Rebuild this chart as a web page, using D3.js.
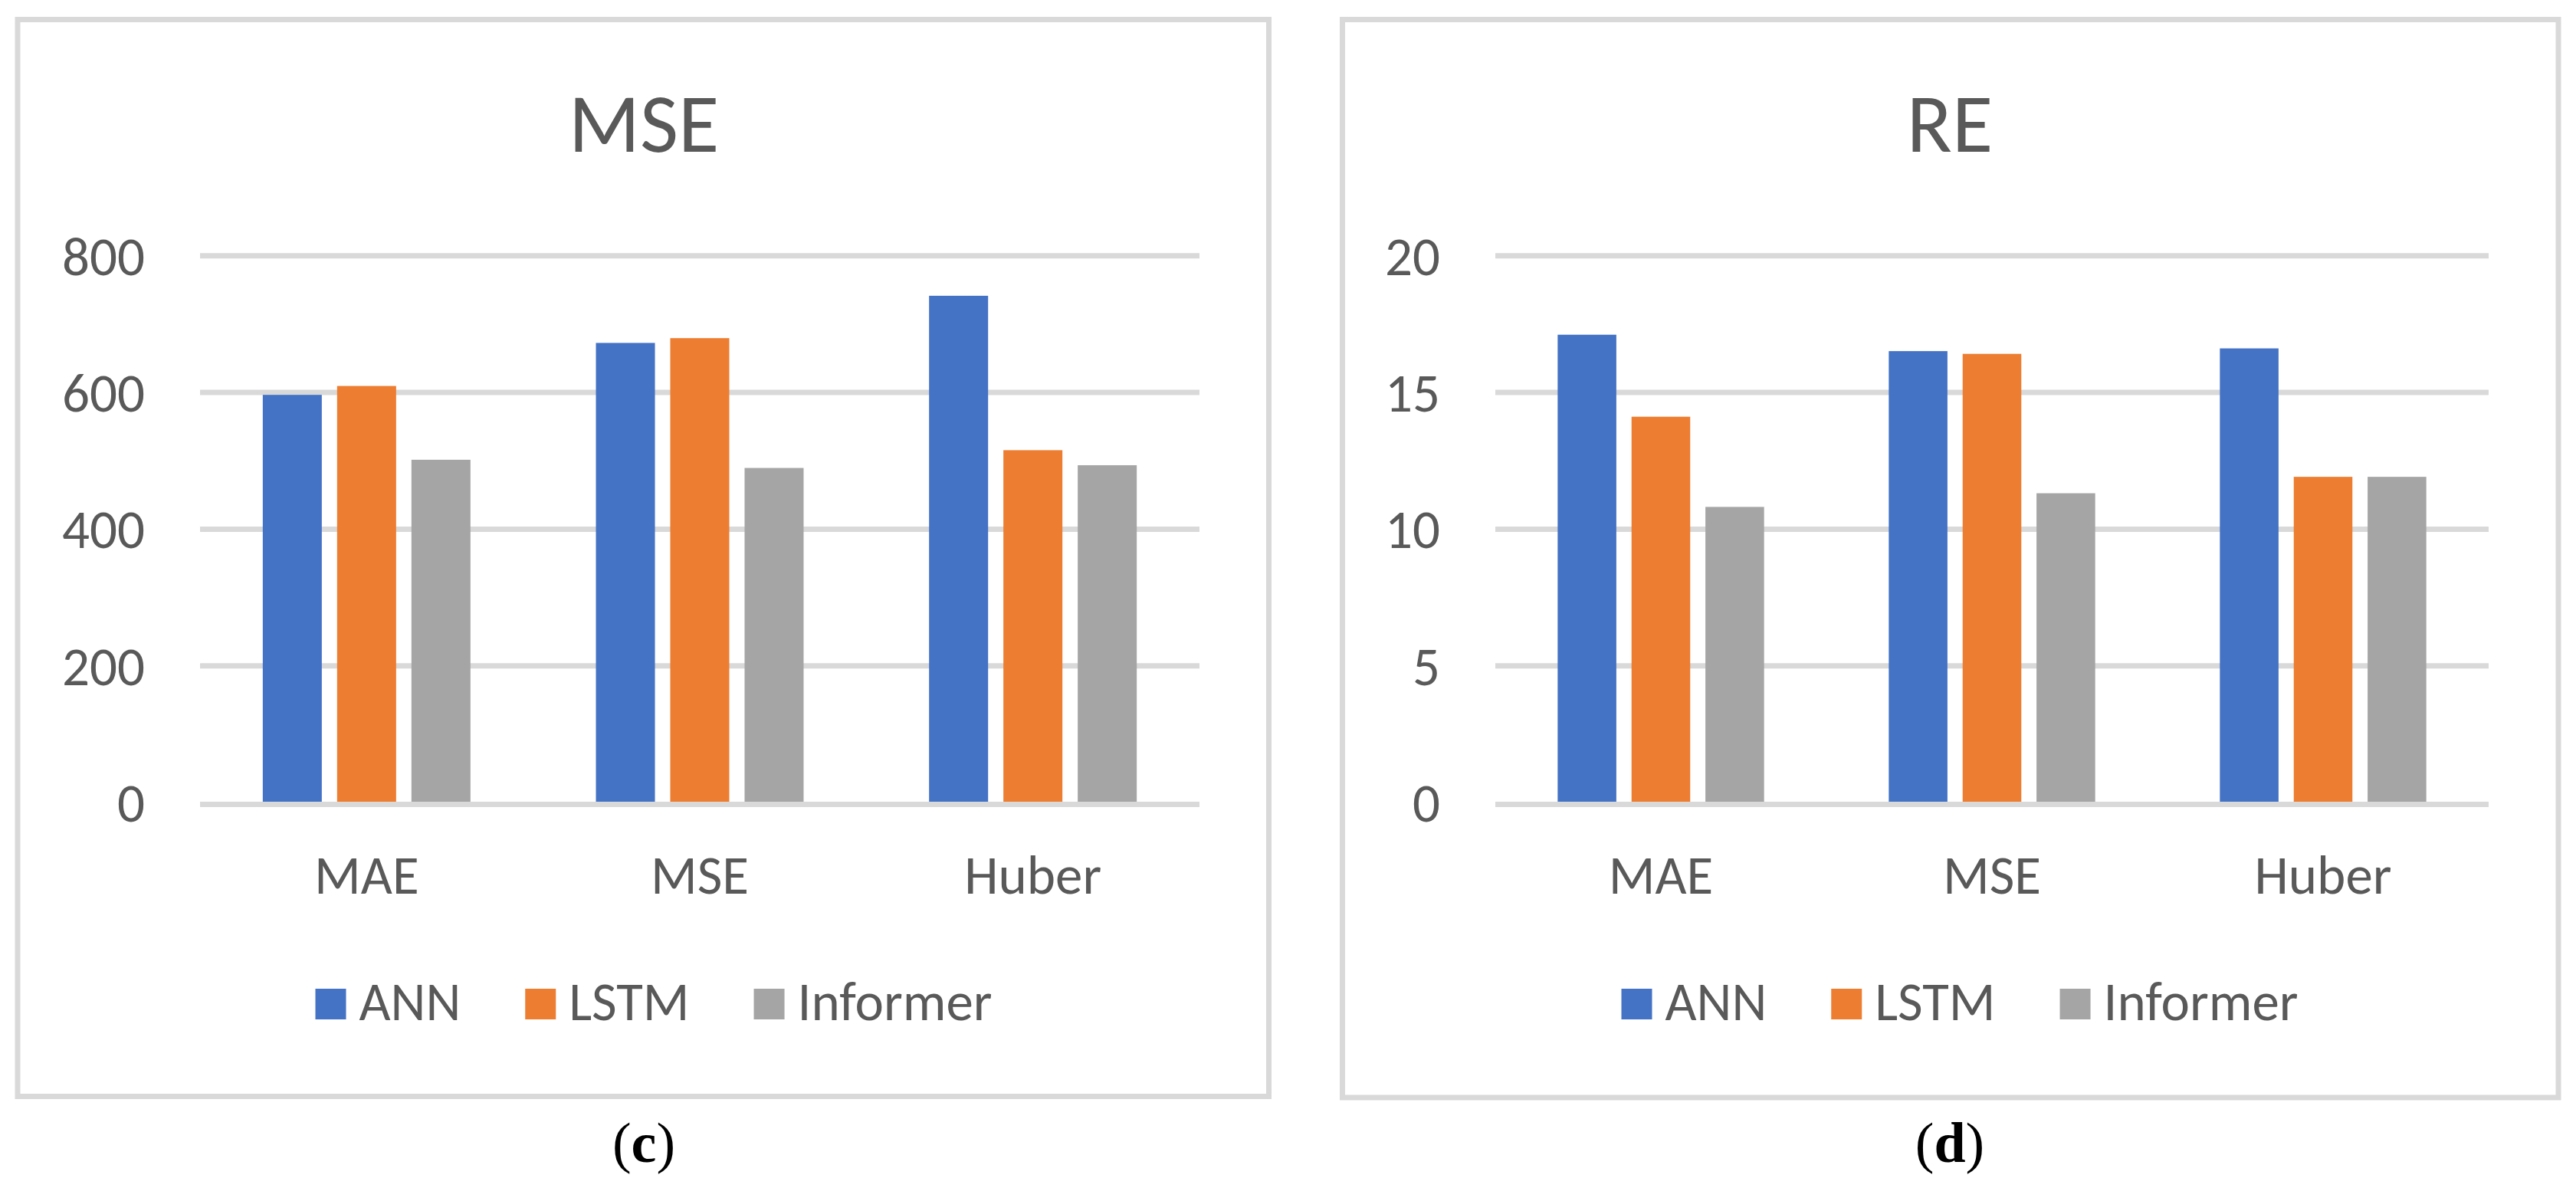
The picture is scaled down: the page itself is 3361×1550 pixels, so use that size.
<!DOCTYPE html>
<html>
<head>
<meta charset="utf-8">
<script src="https://cdn.jsdelivr.net/npm/d3@7/dist/d3.min.js"></script>
<style>
  html, body { margin: 0; padding: 0; background: #ffffff; }
  svg { display: block; }
</style>
</head>
<body>
<svg id="chart" width="3361" height="1550"></svg>
<script>
// ---------------- DATA ----------------
const categories = ["MAE", "MSE", "Huber"];
const seriesNames = ["ANN", "LSTM", "Informer"];
const seriesColors = ["#4472C4", "#ED7D31", "#A5A5A5"];

// Panel (c): MSE
const mseANN = [596, 672, 741];
const mseLSTM = [609, 679, 515];
const mseInformer = [501, 489, 493];
const mseTicks = [0, 200, 400, 600, 800];

// Panel (d): RE
const reANN = [17.1, 16.5, 16.6];
const reLSTM = [14.1, 16.4, 11.9];
const reInformer = [10.8, 11.3, 11.9];
const reTicks = [0, 5, 10, 15, 20];

const panelTitles = ["MSE", "RE"];
const panelCaptions = ["c", "d"];

// ---------------- LAYOUT ----------------
const FONT = "Carlito, Calibri, Lato, sans-serif";
const TEXT = "#595959";
const GRID = "#D9D9D9";
const LABEL_SIZE = 71;
const TITLE_SIZE = 109;
const LEG_GAP = 84;

const panels = [
  { title: panelTitles[0], caption: panelCaptions[0], values: [mseANN, mseLSTM, mseInformer], ticks: mseTicks,
    box: [23, 25.5, 1655.5, 1430.5], plot: [261, 1565], center: 840 },
  { title: panelTitles[1], caption: panelCaptions[1], values: [reANN, reLSTM, reInformer], ticks: reTicks,
    box: [1751.5, 25.5, 3338, 1432], plot: [1951, 3247], center: 2544 }
];

const svg = d3.select("#chart");
const yTop = 333.3, yBottom = 1046.5;

panels.forEach(p => {
  const g = svg.append("g");

  // frame
  g.append("rect")
    .attr("x", p.box[0]).attr("y", p.box[1])
    .attr("width", p.box[2] - p.box[0]).attr("height", p.box[3] - p.box[1])
    .attr("fill", "#fff").attr("stroke", GRID).attr("stroke-width", 7);

  const x = d3.scaleBand().domain(categories).range(p.plot)
    .paddingInner(0.3766).paddingOuter(0.1883);
  const xs = d3.scaleBand().domain(seriesNames).range([0, x.bandwidth()])
    .paddingInner(0.206).paddingOuter(0);
  const y = d3.scaleLinear().domain([0, d3.max(p.ticks)]).range([yBottom, yTop]);

  // gridlines (except baseline)
  g.append("g")
    .attr("transform", `translate(${p.plot[0]},0)`)
    .call(d3.axisLeft(y).tickValues(p.ticks.filter(t => t !== 0))
      .tickSize(-(p.plot[1] - p.plot[0])).tickFormat(""))
    .call(a => a.select(".domain").remove())
    .call(a => a.selectAll("line").attr("stroke", GRID).attr("stroke-width", 7));

  // bars
  const rows = categories.map((c, i) => ({ c, vals: seriesNames.map((s, j) => ({ s, j, v: p.values[j][i] })) }));
  const grp = g.selectAll(".grp").data(rows).join("g")
    .attr("transform", d => `translate(${x(d.c)},0)`);
  grp.selectAll("rect").data(d => d.vals).join("rect")
    .attr("x", d => xs(d.s))
    .attr("width", xs.bandwidth())
    .attr("y", d => y(d.v))
    .attr("height", d => y(0) - y(d.v))
    .attr("fill", d => seriesColors[d.j]);

  // baseline (drawn on top)
  g.append("line")
    .attr("x1", p.plot[0]).attr("x2", p.plot[1])
    .attr("y1", y(0) + 3).attr("y2", y(0) + 3)
    .attr("stroke", GRID).attr("stroke-width", 7);

  // y tick labels
  g.append("g")
    .attr("transform", `translate(${p.plot[0]},0)`)
    .call(d3.axisLeft(y).tickValues(p.ticks).tickSize(0).tickPadding(72))
    .call(a => a.select(".domain").remove())
    .call(a => a.selectAll("text")
      .attr("fill", TEXT).attr("font-family", FONT).attr("font-size", LABEL_SIZE).attr("dy", "0.35em"));

  // x labels
  g.append("g")
    .attr("transform", `translate(0,${yBottom})`)
    .call(d3.axisBottom(x).tickSize(0))
    .call(a => a.select(".domain").remove())
    .call(a => a.selectAll("text")
      .attr("fill", TEXT).attr("font-family", FONT).attr("font-size", LABEL_SIZE)
      .attr("y", 1166 - yBottom).attr("dy", 0));

  // title
  g.append("text")
    .attr("x", p.center).attr("y", 198)
    .attr("text-anchor", "middle")
    .attr("font-family", FONT).attr("font-size", TITLE_SIZE).attr("fill", TEXT)
    .text(p.title);

  // legend
  const leg = g.append("g");
  const items = leg.selectAll("g").data(seriesNames).join("g");
  items.append("rect").attr("width", 40).attr("height", 40).attr("y", 1290)
    .attr("fill", (d, i) => seriesColors[i]);
  items.append("text").attr("x", 57).attr("y", 1331)
    .attr("font-family", FONT).attr("font-size", LABEL_SIZE).attr("fill", TEXT)
    .text(d => d);
  let cx = 0;
  const offs = [];
  items.each(function () {
    offs.push(cx);
    const w = 57 + this.querySelector("text").getComputedTextLength();
    cx += w + LEG_GAP;
  });
  const total = cx - LEG_GAP;
  const start = p.center + 13 - total / 2;
  items.attr("transform", (d, i) => `translate(${start + offs[i]},0)`);

  // caption
  const cap = svg.append("text")
    .attr("x", p.center).attr("y", 1516)
    .attr("text-anchor", "middle")
    .attr("font-family", "'Liberation Serif', 'Times New Roman', serif")
    .attr("font-size", 74).attr("fill", "#000");
  cap.append("tspan").text("(");
  cap.append("tspan").attr("font-weight", "bold").text(p.caption);
  cap.append("tspan").text(")");
});
</script>
</body>
</html>
